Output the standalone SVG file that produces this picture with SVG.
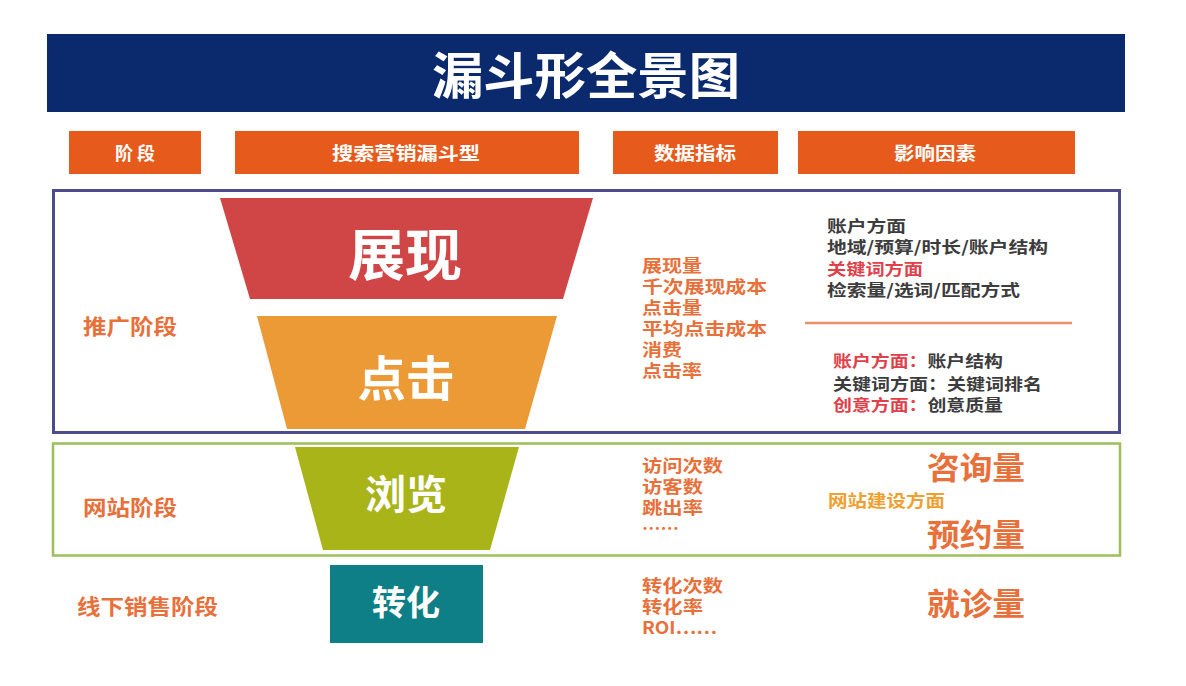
<svg xmlns="http://www.w3.org/2000/svg" width="1186" height="686" viewBox="0 0 1186 686">
<style>
text{font-family:"Noto Sans CJK SC","Noto Sans",sans-serif;font-weight:700;dominant-baseline:central}
.hdr{fill:#e65a1c}
.hdrt{fill:#fff;font-size:18px;text-anchor:middle}
.fun{fill:#fff;text-anchor:middle}
.met{fill:#e8703a;font-size:17px}
.dk{fill:#3c3c3c;font-size:16px}
.rd{fill:#e0404a}
.big{fill:#e8703a;font-size:31px}
.lbl{fill:#e8703a;font-size:21px}
</style>
<rect width="1186" height="686" fill="#fff"/>
<g id="title">
<rect x="47" y="34" width="1078" height="78" fill="#0b2a6e"/>
<text x="586" y="72" fill="#fff" font-size="50" text-anchor="middle" textLength="308" lengthAdjust="spacingAndGlyphs">漏斗形全景图</text>
</g>
<g id="headers">
<g id="h-stage"><rect class="hdr" x="69" y="131" width="132" height="43"/><text class="hdrt" x="135" y="152">阶 段</text></g>
<g id="h-funnel"><rect class="hdr" x="235" y="131" width="344" height="43"/><text class="hdrt" x="406" y="152" textLength="148" lengthAdjust="spacingAndGlyphs">搜索营销漏斗型</text></g>
<g id="h-metrics"><rect class="hdr" x="613" y="131" width="165" height="43"/><text class="hdrt" x="695" y="152" textLength="82" lengthAdjust="spacingAndGlyphs">数据指标</text></g>
<g id="h-factors"><rect class="hdr" x="798" y="131" width="277" height="43"/><text class="hdrt" x="935" y="152" textLength="82" lengthAdjust="spacingAndGlyphs">影响因素</text></g>
</g>
<g id="stage-promo">
<rect x="53.5" y="190.5" width="1066" height="242" fill="none" stroke="#4f4c8c" stroke-width="3"/>
<text class="lbl" x="83" y="325" textLength="94" lengthAdjust="spacingAndGlyphs">推广阶段</text>
</g>
<g id="stage-site">
<rect x="53" y="443.5" width="1067" height="112" fill="none" stroke="#9cbf5a" stroke-width="2.5"/>
<text class="lbl" x="83" y="506" textLength="94" lengthAdjust="spacingAndGlyphs">网站阶段</text>
</g>
<g id="stage-offline">
<text class="lbl" x="77" y="605" textLength="141" lengthAdjust="spacingAndGlyphs">线下销售阶段</text>
</g>
<g id="funnel-show">
<polygon points="220,198 593,198 563,299 250,299" fill="#d04545"/>
<text class="fun" x="405" y="250" font-size="56" textLength="114" lengthAdjust="spacingAndGlyphs">展现</text>
</g>
<g id="funnel-click">
<polygon points="257,316 557,316 525,429 287,429" fill="#ec9a35"/>
<text class="fun" x="406" y="375" font-size="48" textLength="97" lengthAdjust="spacingAndGlyphs">点击</text>
</g>
<g id="funnel-browse">
<polygon points="295,447 519,447 490,550 323,550" fill="#a8b418"/>
<text class="fun" x="406" y="492" font-size="40" textLength="82" lengthAdjust="spacingAndGlyphs">浏览</text>
</g>
<g id="funnel-convert">
<rect x="330" y="565" width="153" height="78" fill="#0e7f86"/>
<text class="fun" x="406" y="600" font-size="34" textLength="68" lengthAdjust="spacingAndGlyphs">转化</text>
</g>
<g id="metrics-promo">
<text class="met" x="642" y="264" textLength="60" lengthAdjust="spacingAndGlyphs">展现量</text>
<text class="met" x="642" y="285" textLength="125" lengthAdjust="spacingAndGlyphs">千次展现成本</text>
<text class="met" x="642" y="306" textLength="60" lengthAdjust="spacingAndGlyphs">点击量</text>
<text class="met" x="642" y="327" textLength="125" lengthAdjust="spacingAndGlyphs">平均点击成本</text>
<text class="met" x="642" y="348" textLength="40" lengthAdjust="spacingAndGlyphs">消费</text>
<text class="met" x="642" y="369" textLength="60" lengthAdjust="spacingAndGlyphs">点击率</text>
</g>
<g id="factors-promo">
<text class="dk" x="827" y="225" textLength="79" lengthAdjust="spacingAndGlyphs">账户方面</text>
<text class="dk" x="827" y="246" textLength="221" lengthAdjust="spacingAndGlyphs">地域/预算/时长/账户结构</text>
<text class="dk rd" x="827" y="268" textLength="96" lengthAdjust="spacingAndGlyphs">关键词方面</text>
<text class="dk" x="827" y="289" textLength="193" lengthAdjust="spacingAndGlyphs">检索量/选词/匹配方式</text>
<line x1="805" y1="323" x2="1072" y2="323" stroke="#f0906a" stroke-width="2.5"/>
<text class="dk" x="833" y="360" textLength="170" lengthAdjust="spacingAndGlyphs"><tspan class="rd">账户方面：</tspan>账户结构</text>
<text class="dk" x="833" y="383" textLength="209" lengthAdjust="spacingAndGlyphs">关键词方面：关键词排名</text>
<text class="dk" x="833" y="404" textLength="170" lengthAdjust="spacingAndGlyphs"><tspan class="rd">创意方面：</tspan>创意质量</text>
</g>
<g id="metrics-site">
<text class="met" x="642" y="464" textLength="81" lengthAdjust="spacingAndGlyphs">访问次数</text>
<text class="met" x="642" y="485" textLength="61" lengthAdjust="spacingAndGlyphs">访客数</text>
<text class="met" x="642" y="506" textLength="61" lengthAdjust="spacingAndGlyphs">跳出率</text>
<text class="met" x="642" y="527" textLength="37" lengthAdjust="spacingAndGlyphs">……</text>
</g>
<g id="factors-site">
<text class="big" x="927" y="465" textLength="98" lengthAdjust="spacingAndGlyphs">咨询量</text>
<text x="828" y="499" fill="#f0a030" font-size="17" textLength="117" lengthAdjust="spacingAndGlyphs">网站建设方面</text>
<text class="big" x="927" y="532" textLength="98" lengthAdjust="spacingAndGlyphs">预约量</text>
</g>
<g id="metrics-offline">
<text class="met" x="642" y="584" textLength="81" lengthAdjust="spacingAndGlyphs">转化次数</text>
<text class="met" x="642" y="605" textLength="61" lengthAdjust="spacingAndGlyphs">转化率</text>
<text class="met" x="642" y="626" textLength="75" lengthAdjust="spacingAndGlyphs">ROI……</text>
</g>
<g id="factors-offline">
<text class="big" x="927" y="601" textLength="98" lengthAdjust="spacingAndGlyphs">就诊量</text>
</g>
<g id="connectors"/>
</svg>
